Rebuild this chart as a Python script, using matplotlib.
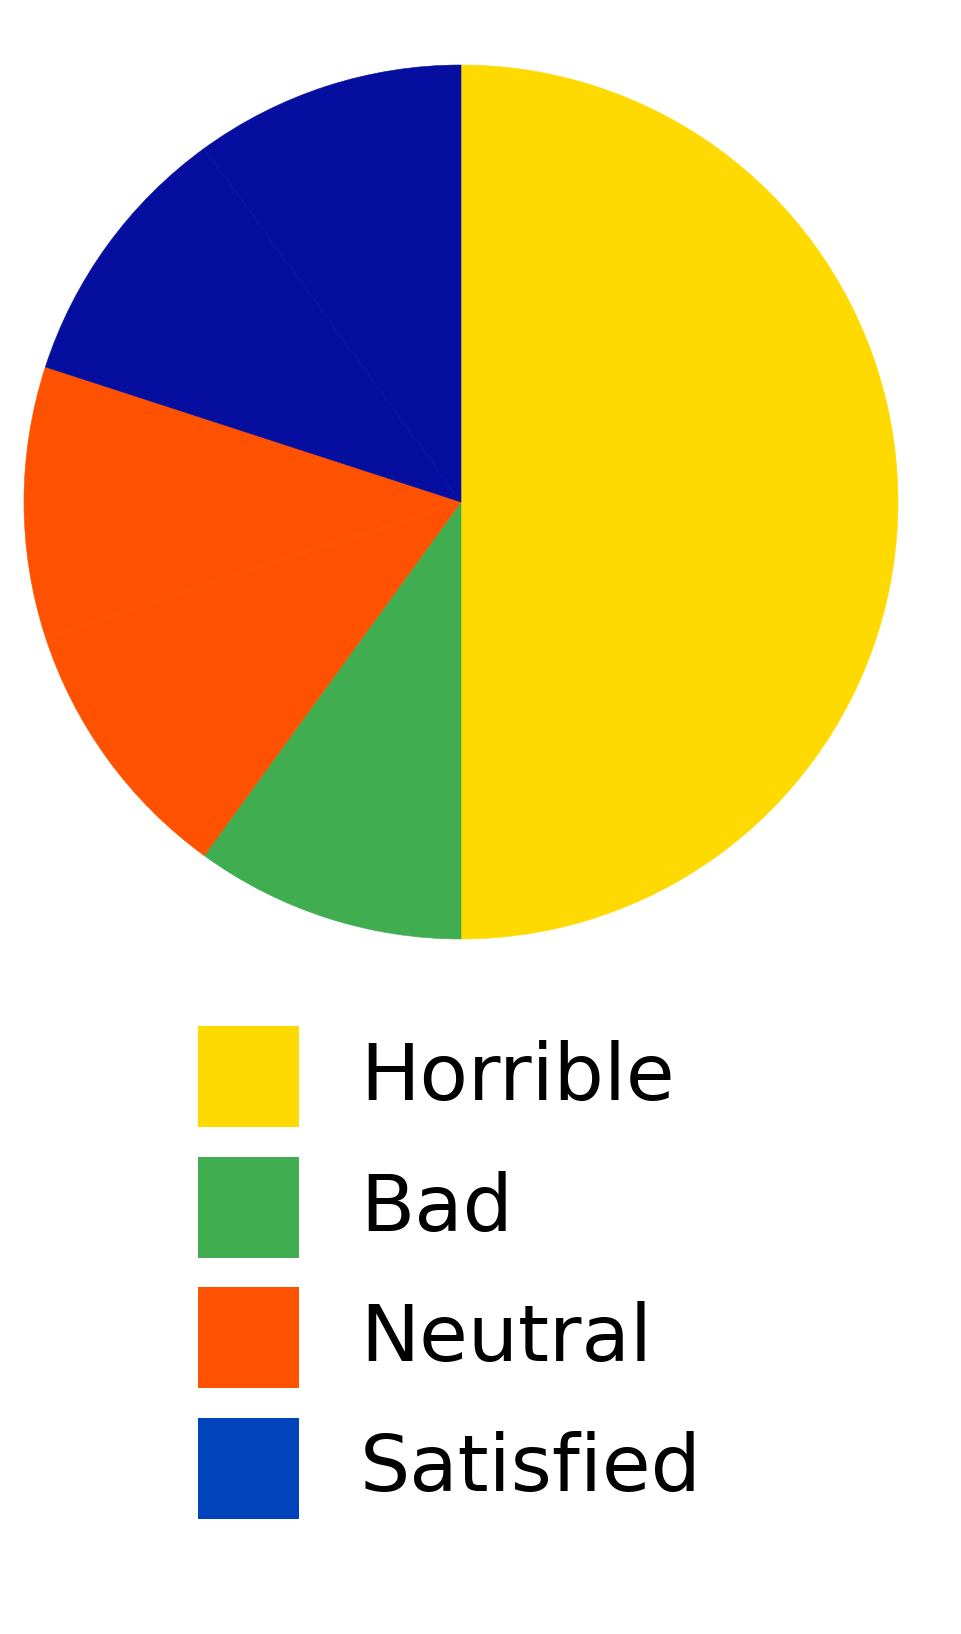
import matplotlib
matplotlib.use("Agg")
import matplotlib.pyplot as plt
from matplotlib.patches import Rectangle

categories = ["Horrible", "Bad", "Neutral", "Satisfied"]
legend_colors = ["#FFDA00", "#41AD51", "#FF5200", "#0044BB"]

# each slice is one response, in drawing order
slice_labels = ["Horrible", "Horrible", "Horrible", "Horrible", "Horrible",
                "Bad", "Neutral", "Neutral", "Satisfied", "Satisfied"]
slice_values = [10, 10, 10, 10, 10, 10, 10, 10, 10, 10]
pie_colors = {"Horrible": "#FFDA00", "Bad": "#41AD51",
              "Neutral": "#FF5200", "Satisfied": "#060E9F"}

W, H = 962, 1634
fig = plt.figure(figsize=(W / 100, H / 100), dpi=100)
plt.rcParams['font.family'] = ['DejaVu Sans']

ax = fig.add_axes([24 / W, 1 - 939 / H, 874 / W, 874 / H])
wedges, _ = ax.pie(slice_values, colors=[pie_colors[l] for l in slice_labels],
                   startangle=90, counterclock=False, radius=1)
for w in wedges:
    # thin edge in own colour keeps seams faint
    w.set_edgecolor(w.get_facecolor())
    w.set_linewidth(0.4)
ax.set_xlim(-1, 1)
ax.set_ylim(-1, 1)
ax.set_aspect("equal")
ax.axis("off")

# legend drawn in pixel coordinates
lg = fig.add_axes([0, 0, 1, 1])
lg.set_xlim(0, W)
lg.set_ylim(H, 0)
lg.axis("off")
for i, (name, col) in enumerate(zip(categories, legend_colors)):
    top = 1026 + i * 130.5
    lg.add_patch(Rectangle((198, top), 101, 101, color=col, lw=0))
    lg.text(360, top + 74, name, fontsize=57, va="baseline", ha="left", color="black")

fig.savefig("out.png", dpi=100)
